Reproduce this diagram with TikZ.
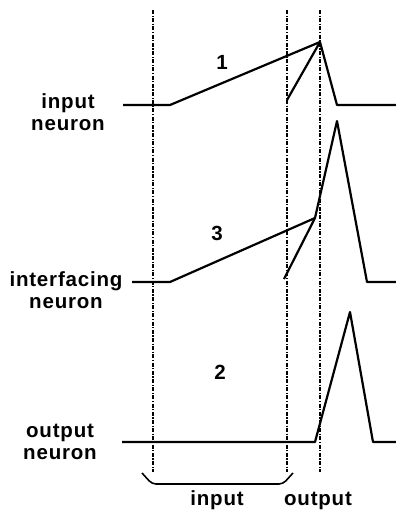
\documentclass[tikz,border=0pt]{standalone}
\usepackage{fontspec}
\setsansfont{Liberation Sans}
\usetikzlibrary{positioning}

\begin{document}
\begin{tikzpicture}[x=1pt,y=-1pt]
        \tikzstyle{trace}=[line width=2.2pt, line join=round]
        \tikzstyle{marker}=[line width=1.4pt, dash pattern=on 4pt off 1.5pt on 1.2pt off 1.5pt]
        \tikzstyle{annot}=[font=\sffamily\bfseries\addfontfeature{LetterSpace=4}\fontsize{20.5}{22}\selectfont, align=center, inner sep=0pt]
        \useasboundingbox (0,0) rectangle (396,515);

        % Time markers
        \foreach \name / \x / \w in {a/153/1.4pt, b/287/1.4pt, c/320/2pt}{
            \coordinate (\name-top) at (\x,10);
            \coordinate (\name-bot) at (\x,472);
            \draw[marker, line width=\w] (\name-top) -- (\name-bot);
        }

        % Input neuron
        \coordinate (I-0) at (123,105);
        \coordinate (I-1) at (170,105);
        \coordinate (I-s) at (287,100);
        \coordinate (I-peak) at (320,42);
        \coordinate (I-2) at (337,105);
        \coordinate (I-3) at (396,105);
        \draw[trace] (I-0) -- (I-1) -- (I-peak) -- (I-2) -- (I-3);
        \draw[trace] (I-s) -- (I-peak);

        % Interfacing neuron
        \coordinate (N-0) at (132,282);
        \coordinate (N-1) at (170,282);
        \coordinate (N-s) at (284,279);
        \coordinate (N-x) at (315,218);
        \coordinate (N-peak) at (337,121);
        \coordinate (N-2) at (367,282);
        \coordinate (N-3) at (396,282);
        \draw[trace] (N-0) -- (N-1) -- (N-x);
        \draw[trace] (N-s) -- (N-x) -- (N-peak) -- (N-2) -- (N-3);

        % Output neuron
        \coordinate (O-0) at (122,442);
        \coordinate (O-1) at (315,442);
        \coordinate (O-peak) at (350,312);
        \coordinate (O-2) at (373,442);
        \coordinate (O-3) at (396,442);
        \draw[trace] (O-0) -- (O-1) -- (O-peak) -- (O-2) -- (O-3);

        % Brace under the input period
        \coordinate (B-l) at (142,473);
        \coordinate (B-r) at (293,473);
        \draw[line width=1.6pt, rounded corners=4pt] (B-l) -- (152,484) -- (283,484) -- (B-r);

        % Annotate
        \node[annot] (in-lbl) at (68,112) {input\\neuron};
        \node[annot] (if-lbl) at (66,290) {interfacing\\neuron};
        \node[annot] (out-lbl) at (60,442) {output\\neuron};
        \node[annot] (n1) at (222,62) {1};
        \node[annot] (n3) at (217,233) {3};
        \node[annot] (n2) at (220,372) {2};
        \node[annot, anchor=base] (t-in) at (217,505) {input};
        \node[annot, anchor=base] (t-out) at (318,505) {output};

\end{tikzpicture}
\end{document}
